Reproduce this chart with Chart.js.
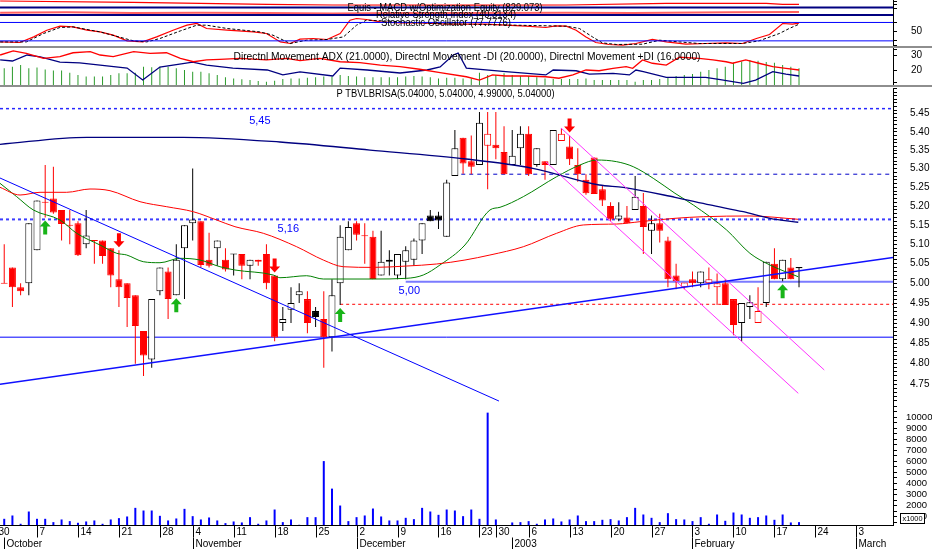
<!DOCTYPE html>
<html>
<head>
<meta charset="utf-8">
<title>PTBVLBRISA</title>
<script src="https://cdn.jsdelivr.net/npm/chart.js@4.4.1/dist/chart.umd.min.js"></script>
<style>
  html, body { margin: 0; padding: 0; background: #ffffff; }
  #wrap { position: relative; width: 932px; height: 549px; overflow: hidden; background: #ffffff; }
  #wrap canvas { position: absolute; left: 0; }
  .sep { position: absolute; left: 0; width: 932px; height: 2px; background: #8e8e8e; }
</style>
</head>
<body>
<div id="wrap">
  <canvas id="cTop" width="932" height="47" style="top:0px"></canvas>
  <canvas id="cDmi" width="932" height="37" style="top:48px"></canvas>
  <canvas id="cPrice" width="932" height="315" style="top:88px"></canvas>
  <canvas id="cVol" width="932" height="146" style="top:403px"></canvas>
  <div class="sep" style="top:46px"></div>
  <div class="sep" style="top:85px"></div>
</div>
<script>
// ======================= DATA =======================
// trading-day slots: 30 Sep 2002 = slot 0, 1 Oct 2002 = slot 1, ...
const firstSlot = 1;
const closeBefore = 5.03;

const openP = [
  5.00,5.04,4.99,5.00,5.085,5.21,5.22,5.19,5.15,5.155,
  5.10,5.11,5.11,5.09,5.01,5.00,4.97,4.88,4.81,4.98,
  5.03,4.97,5.09,5.155,5.16,5.06,5.09,5.06,5.075,5.075,
  5.045,5.06,5.075,5.02,4.90,4.933,4.97,4.96,4.93,4.91,
  4.865,5.00,5.085,5.155,5.122,5.12,5.02,5.055,5.02,5.055,
  5.06,5.11,5.175,5.175,5.12,5.28,5.384,5.32,5.31,5.362,
  5.365,5.345,5.31,5.355,5.395,5.31,5.32,5.31,5.375,5.36,
  5.31,5.27,5.33,5.245,5.20,5.165,5.17,5.19,5.20,5.135,
  5.155,5.11,5.02,4.99,5.01,5.00,5.00,4.99,5.00,4.96,
  4.90,4.94,4.90,4.95,5.05,5.01,5.04,5.04];
const highP = [
  5.10,5.04,5.00,5.155,5.215,5.31,5.305,5.19,5.19,5.16,
  5.19,5.11,5.11,5.09,5.085,5.00,4.97,4.88,4.96,5.04,
  5.04,5.10,5.15,5.30,5.16,5.13,5.11,5.09,5.075,5.075,
  5.06,5.06,5.10,5.02,4.94,4.99,5.00,4.98,4.94,4.98,
  5.01,5.15,5.16,5.16,5.155,5.135,5.135,5.085,5.075,5.095,
  5.115,5.155,5.19,5.185,5.27,5.405,5.384,5.39,5.455,5.455,
  5.455,5.415,5.405,5.415,5.415,5.355,5.32,5.405,5.41,5.39,
  5.355,5.285,5.33,5.255,5.21,5.21,5.20,5.28,5.235,5.175,
  5.18,5.12,5.05,5.00,5.03,5.03,5.04,5.025,5.01,4.96,
  4.95,4.97,4.99,5.055,5.09,5.06,5.065,5.04];
const lowP = [
  5.00,4.94,4.97,4.97,5.085,5.17,5.18,5.11,5.10,5.07,
  5.09,5.05,5.05,4.99,4.94,4.89,4.80,4.77,4.79,4.97,
  4.91,4.97,4.96,5.11,5.04,5.04,5.045,5.03,5.02,5.01,
  5.01,5.045,4.985,4.855,4.88,4.90,4.95,4.875,4.89,4.79,
  4.83,4.945,5.085,5.11,5.05,5.01,5.02,5.02,5.01,5.01,
  5.045,5.075,5.16,5.14,5.12,5.28,5.286,5.285,5.31,5.245,
  5.325,5.285,5.31,5.31,5.28,5.305,5.27,5.31,5.375,5.31,
  5.265,5.23,5.232,5.20,5.16,5.16,5.155,5.19,5.075,5.075,
  5.105,4.99,4.985,4.985,4.99,4.99,4.985,4.945,4.945,4.87,
  4.855,4.91,4.90,4.94,5.01,5.005,5.01,4.99];
const closeP = [
  5.00,4.99,4.98,5.155,5.215,5.21,5.183,5.153,5.15,5.072,
  5.123,5.11,5.07,5.02,4.99,4.963,4.893,4.82,4.96,5.04,
  4.96,5.06,5.15,5.165,5.047,5.045,5.11,5.035,5.075,5.045,
  5.06,5.055,5.00,4.864,4.91,4.95,4.98,4.90,4.915,4.865,
  4.97,5.12,5.145,5.125,5.122,5.011,5.055,5.06,5.075,5.085,
  5.11,5.155,5.16,5.162,5.263,5.355,5.314,5.305,5.425,5.395,
  5.355,5.285,5.335,5.395,5.285,5.355,5.31,5.405,5.395,5.325,
  5.285,5.234,5.232,5.215,5.165,5.175,5.155,5.225,5.145,5.155,
  5.135,5.01,5.005,5.002,5.00,5.03,5.01,5.00,4.945,4.895,
  4.95,4.952,4.93,5.055,5.01,5.06,5.01,5.04];
const volumeShares = [
  810,1110,360,1470,810,810,510,750,600,450,
  570,660,360,750,870,1020,1800,1560,1560,1080,
  660,840,1710,1050,750,930,660,420,570,480,
  960,360,660,1650,510,750,270,960,960,6030,
  3540,2010,600,960,1110,1740,1020,660,660,900,
  780,1800,1470,1170,1650,1560,1050,1650,810,10410,
  750,0,480,510,600,360,750,840,570,750,
  1110,600,600,720,780,660,960,1800,1200,900,
  510,1320,780,750,600,960,360,1200,630,1380,
  1200,900,960,1110,720,1200,480,510];
const adxV = [
  21.1,22.2,23.3,21.1,21.6,20.4,19.6,19.6,18.2,16.7,
  15.6,15.6,15.6,16.7,17.8,17.8,18.2,22.2,21.8,22.2,
  22.2,21.1,20.0,18.9,18.9,17.8,16.7,15.1,14.4,13.8,
  13.3,12.7,12.2,12.9,14.0,14.4,14.4,14.9,15.1,15.6,
  15.6,16.7,16.0,15.6,15.1,15.1,15.1,15.1,15.1,15.6,
  16.0,15.6,15.1,14.4,14.9,14.9,14.4,14.4,18.2,16.7,
  16.7,17.8,16.7,16.0,16.0,15.1,14.4,14.0,14.0,14.0,
  14.0,14.4,13.3,13.3,13.3,13.3,13.3,12.2,13.3,13.3,
  14.0,15.1,16.0,16.7,17.3,18.9,20.0,21.1,22.2,24.9,
  25.6,26.7,26.2,25.3,24.9,23.3,22.2,21.1];
const minusDiX = [0.5,2.1,3.7,5.8,7.8,9.4,11.5,12.7,14.3,16.8,18.8,20.8,22.5,24.1,25.7,27.3,29.8,33.0,35.5,37.1,39.5,42.0,44.4,46.9,49.3,51.7,54.2,57.4,59.0,60.6,62.2,64.7,67.1,68.7,70.4,72.0,73.6,75.3,76.9,77.7,78.9,80.1,81.8,83.4,85.8,87.5,89.1,89.9,91.5,93.1,94.8,96.4,98.0];
const minusDiV = [30,32.7,31.1,27.8,28.9,31.5,32.2,30,28.9,32.2,31.1,31.5,27.8,25.5,26.7,27.1,27.8,26.7,27.8,26.2,27.8,25.5,24.9,23.3,22.2,20.5,18.2,15.5,13.3,16.7,16,16,15.5,14.5,16.7,20,19.5,21.1,22.2,21.1,26.7,24.5,23.3,28.5,27.8,26.7,25.5,24.5,26.7,24.5,22.2,21.1,20.0];
const plusDiX = [0.5,2.0,3.8,5.4,7.8,10.2,12.7,16.0,17.9,20.0,24.0,25.7,28.9,33.1,35.0,37.1,41.1,42.0,45.3,49.3,52.6,54.2,55.8,56.4,57.4,62.2,67.1,68.0,70.8,72.4,75.3,77.3,78.1,79.0,81.8,86.6,88.2,91.2,92.7,94.8,96.4,98.0];
const plusDiV = [26.7,26,30,28.7,25.3,24.7,23.3,21.3,13.3,22,25.3,23.3,21.3,20,16.7,18.7,16,21.3,20,18,20,22,30,31.3,21.3,18.9,16.7,20,19.5,17.3,17.8,16.7,20,18.9,15.1,15.1,13.8,11.1,13.3,18.9,17.3,16.0];
const stochKX = [0.5,2.9,4.6,6.2,7.8,9.4,11.1,12.7,14.3,16.0,17.9,19.6,21.6,23.3,24.5,25.7,28.2,31.4,33.0,34.7,35.9,37.1,38.7,40.4,42.0,43.2,44.0,45.2,46.9,49.3,51.7,53.3,55.0,57.4,59.8,62.2,64.7,67.1,68.3,69.6,70.8,72.0,73.2,74.8,76.5,78.1,80.1,81.8,84.2,86.6,89.1,91.1,92.8,94.4,96.0,97.2,98.0];
const stochKV = [16.6,14.7,32.9,54.8,67.8,65.5,54.8,49.2,38.5,19.9,16.6,32.9,54.8,71.1,76.6,60.3,54.8,49.2,44,16.6,11.4,25.4,27.7,24.5,44,87.4,92.9,89.7,81.8,78.6,78.6,76.6,74.3,74.3,74.3,71.1,67.8,63.6,68.8,67.8,54.8,32.9,14.7,8.2,5.9,11.4,24.5,16.6,9.1,11.4,13.4,11.4,27.7,40.8,76.6,74.3,77.8];
const stochDX = [0.5,3.7,5.8,7.8,9.4,12.7,16.8,18.4,20.0,22.5,24.5,25.7,28.2,32.2,33.8,35.9,37.9,40.4,42.4,44.0,45.2,47.3,53.4,57.4,69.6,71.2,72.8,74.0,75.7,78.9,81.0,83.4,85.8,91.1,93.1,95.6,96.8,98.0];
const stochDV = [16.6,16.6,44,63.6,65.5,49.2,19.9,16.6,27.7,52.5,71.1,71.1,60.3,49.2,38.5,11.4,22.2,24.5,32.9,71.1,87.4,85.1,76.6,74.3,67.8,60.3,32.9,13.4,8.2,9.1,22.2,16.6,11.4,11.4,19.9,44,60.3,74.3];
const stochLevels = [80, 20];
const rsiX = [0.5,8.6,16.7,24.9,33.0,41.1,49.3,57.4,69.6,77.7,89.9,98.0];
const rsiV = [31,36,26,31,26,20,26,26,31,26,38,40.3];
const rsiBand = [100, 0];
const equityX = [0.5,16.7,33.1,41.1,57.4,69.6,81.8,94.0,96.0,98.0];
const equityV = [895,869,829,815,811,815,849,849,829,829];

const maShortX = [0.48,2.52,4.55,7.81,9.84,12.69,14.73,15.95,17.97,20.01,22.45,24.89,27.33,29.16,33.84,34.65,37.91,39.94,46.04,50.12,52.14,54.18,57.23,60.28,61.51,64.35,68.42,71.27,73.31,75.75,77.77,80.21,82.86,85.1,89.17,92.01,94.45,97.91];
const maShortP = [5.2606,5.225,5.1898,5.1634,5.1287,5.0983,5.0768,5.0724,5.0552,5.0526,5.0639,5.0595,5.0423,5.0339,5.0211,5.0142,5.0193,5.0109,5.0109,5.0127,5.0211,5.0467,5.0983,5.1898,5.1969,5.225,5.2783,5.3098,5.3232,5.3187,5.3052,5.274,5.234,5.203,5.1372,5.0768,5.0467,5.0167];
const maMidX = [0.48,2.93,5.37,8.62,11.47,13.91,17.57,20.83,24.08,26.93,29.16,32.62,36.69,39.94,42.38,46.04,50.12,53.78,57.23,60.28,64.35,68.42,71.67,75.75,78.59,82.86,86.32,92.01,97.91];
const maMidP = [5.2499,5.2294,5.2366,5.2366,5.2454,5.2409,5.2117,5.1984,5.1852,5.1634,5.1459,5.1287,5.0938,5.0595,5.0423,5.0406,5.0441,5.0493,5.0595,5.0724,5.0938,5.1287,5.1504,5.1529,5.159,5.1679,5.1721,5.174,5.1653];
const maLongX = [0.48,11.07,22.82,34.65,45.64,57.36,65.5,73.62,76.55,82.86,87.13,91.2,94.45,97.91];
const maLongP = [5.3659,5.385,5.385,5.3722,5.3503,5.326,5.3009,5.2561,5.2499,5.2233,5.203,5.1852,5.1679,5.1575];

const levelPrice = [5.464, 5.285, 5.165, 5.004, 4.947, 4.865];
const levelStart = [null, 55.8, null, 50.0, 42.0, null];
const trendX0 = [0.4845, 0.4845, 68.95, 67.12];
const trendP0 = [5.2748, 4.75, 5.4105, 5.3178];
const trendX1 = [61.38, 109.47, 101.08, 97.91];
const trendP1 = [4.7097, 5.066, 4.7846, 4.7282];
const noteText = ['5,45', '5,16', '5,00'];
const noteSlot = [32.2, 35.67, 50.44];
const notePrice = [5.43, 5.14, 4.981];
const upArrowSlots = [6, 22, 42, 96];
const downArrowSlots = [15, 34, 70];

const priceTickLabels = ['4.75','4.80','4.85','4.90','4.95','5.00','5.05','5.10','5.15','5.20','5.25','5.30','5.35','5.40','5.45'];
const volTickLabels = ['1000','2000','3000','4000','5000','6000','7000','8000','9000','10000'];
const dmiTickLabels = ['20', '30'];
const stochTickLabels = ['50'];
const dayTickSlots = [0,5,10,15,20,24,29,34,39,44,49,54,59,61,65,70,75,80,85,90,95,100,105];
const dayTickLabels = ['30','7','14','21','28','4','11','18','25','2','9','16','23','30','6','13','20','27','3','10','17','24','3'];
const monthSlots = [1,24,44,63,85,105];
const monthLabels = ['October','November','December','2003','February','March'];

const titleEquity = 'Equis - MACD w/Optimization Equity (829.073)';
const titleRsi = 'Relative Strength Index (40.3134)';
const titleStoch = 'Stochastic Oscillator (77.7776)';
const titleDmi = 'Directnl Movement ADX (21.0000), Directnl Movement -DI (20.0000), Directnl Movement +DI (16.0000)';
const titlePrice = 'P TBVLBRISA(5.04000, 5.04000, 4.99000, 5.04000)';

// ======================= SETUP =======================
const FONT = "'Liberation Sans', Arial, Helvetica, sans-serif";
Chart.defaults.font.family = FONT;
Chart.defaults.font.size = 10;
Chart.defaults.color = '#000';

const xMin = 0.4845, xMax = 109.47;
const slots = openP.map((_, i) => firstSlot + i);
const prevC = closeP.map((c, i) => (i ? closeP[i - 1] : closeBefore));
const redDay = closeP.map((c, i) => c < prevC[i]);
const hollow = closeP.map((c, i) => c >= openP[i]);
const candleColor = redDay.map(r => (r ? '#ff0000' : '#000000'));

function pts(xs, ys) { return xs.map((x, i) => ({ x: x, y: ys[i] })); }
function hline(v, from, to) { return [{ x: from == null ? xMin : from, y: v }, { x: to == null ? xMax : to, y: v }]; }
function lineDs(data, color, width, extra) {
  return Object.assign({ type: 'line', data: data, borderColor: color, borderWidth: width,
    pointRadius: 0, pointHoverRadius: 0, fill: false, tension: 0 }, extra || {});
}
function xAxis() { return { type: 'linear', min: xMin, max: xMax, display: false, offset: false }; }
function rightAxis(o) {
  return {
    type: o.type || 'linear', position: 'right', min: o.min, max: o.max,
    afterFit: s => { s.width = 39; s.paddingTop = 0; s.paddingBottom = 0; },
    afterBuildTicks: s => { s.ticks = o.tickValues.map(v => ({ value: v })); },
    grid: { drawOnChartArea: false, drawTicks: true, tickLength: o.tickLength || 4, color: '#000', lineWidth: 1 },
    border: { display: true, color: '#000', width: 1 },
    ticks: { autoSkip: false, padding: o.padding, color: '#000', font: { size: o.fontSize || 10 },
      callback: o.label }
  };
}
function labelFrom(list) {
  return v => { const hit = list.find(t => Math.abs(parseFloat(t) - v) < 1e-6); return hit === undefined ? '' : hit; };
}
function baseOpts(scales, padBottom) {
  return {
    responsive: false, animation: false, events: [],
    layout: { padding: { left: 0, right: 0, top: 0, bottom: padBottom || 0 } },
    plugins: { legend: { display: false }, tooltip: { enabled: false }, title: { display: false } },
    scales: scales
  };
}
function fitText(ctx, text, cx, cy, width, size, color, align) {
  ctx.save();
  ctx.font = size + 'px ' + FONT;
  ctx.fillStyle = color;
  ctx.textBaseline = 'middle';
  ctx.textAlign = align || 'center';
  const w = ctx.measureText(text).width;
  const sx = width ? width / w : 1;
  ctx.translate(cx, cy);
  ctx.scale(sx, 1);
  ctx.fillText(text, 0, 0);
  ctx.restore();
}
function textPlugin(id, items) {
  return { id: id, afterDatasetsDraw(chart) {
    items.forEach(t => fitText(chart.ctx, t.text, t.x, t.y, t.w, t.size, '#000'));
  } };
}

// ======================= TOP: Equity / RSI / Stochastic =======================
new Chart(document.getElementById('cTop'), {
  type: 'line',
  data: { datasets: [
    lineDs(pts(equityX, equityV), '#ff0000', 1.2, { yAxisID: 'yM' }),
    lineDs(hline(rsiBand[0]), '#000080', 2, { yAxisID: 'yR' }),
    lineDs(hline(rsiBand[1]), '#000080', 2, { yAxisID: 'yR' }),
    lineDs(pts(rsiX, rsiV), '#ff6060', 2, { yAxisID: 'yR' }),
    lineDs(hline(stochLevels[0]), '#0000ff', 1, { yAxisID: 'y' }),
    lineDs(hline(stochLevels[1]), '#0000ff', 1, { yAxisID: 'y' }),
    lineDs(pts(stochDX, stochDV), '#000000', 1, { yAxisID: 'y', borderDash: [3, 2] }),
    lineDs(pts(stochKX, stochKV), '#ff0000', 1.2, { yAxisID: 'y' })
  ] },
  options: baseOpts({
    x: xAxis(),
    y: rightAxis({ min: 0, max: 153.2, tickValues: [5, 20, 50, 80, 125, 140, 148], padding: 14,
      label: labelFrom(stochTickLabels) }),
    yR: { display: false, min: -426.7, max: 200 },
    yM: { display: false, min: -25, max: 915 }
  }),
  plugins: [textPlugin('topTitles', [
    { text: titleEquity, x: 445, y: 8, w: 195, size: 10 },
    { text: titleRsi, x: 446, y: 15.5, w: 140, size: 10 },
    { text: titleStoch, x: 446, y: 23, w: 130, size: 10 }
  ])]
});

// ======================= DMI =======================
new Chart(document.getElementById('cDmi'), {
  type: 'line',
  data: { datasets: [
    { type: 'bar', data: slots.map((s, i) => ({ x: s, y: adxV[i] })), backgroundColor: '#2b9b2b',
      barThickness: 1, grouped: false, order: 3, inflateAmount: 0 },
    lineDs(pts(plusDiX, plusDiV), '#000080', 1.3, { order: 2 }),
    lineDs(pts(minusDiX, minusDiV), '#ff0000', 1.3, { order: 1 })
  ] },
  options: baseOpts({
    x: xAxis(),
    y: rightAxis({ min: 10, max: 34.67, tickValues: [12, 20, 30, 34], padding: 14,
      label: labelFrom(dmiTickLabels) })
  }),
  plugins: [textPlugin('dmiTitle', [{ text: titleDmi, x: 467, y: 9, w: 467, size: 10 }])]
});

// ======================= PRICE =======================
const levelStyle = [
  { c: '#2828ff', w: 1.5, d: [3, 3] },
  { c: '#0000c8', w: 1, d: [4, 4] },
  { c: '#3c3cff', w: 2, d: [3, 3] },
  { c: '#7b7bff', w: 2, d: [] },
  { c: '#ff0000', w: 1, d: [3, 3] },
  { c: '#0000ff', w: 1, d: [] }
];
const trendStyle = [
  { c: '#0000ff', w: 1 }, { c: '#1010ff', w: 1.4 }, { c: '#ff33ff', w: 1 }, { c: '#ff33ff', w: 1 }
];
const priceTickValues = [];
for (let k = 471; k <= 552; k++) priceTickValues.push(k / 100);

const wickData = slots.map((s, i) => ({ x: s, y: [lowP[i], highP[i]] }));
const bodyData = slots.map((s, i) => {
  let lo = Math.min(openP[i], closeP[i]), hi = Math.max(openP[i], closeP[i]);
  if (hi - lo < 0.003) { const m = (hi + lo) / 2; lo = m - 0.0013; hi = m + 0.0013; }
  return { x: s, y: [lo, hi] };
});

const priceDatasets = [];
levelPrice.forEach((p, i) => priceDatasets.push(lineDs(hline(p, levelStart[i]), levelStyle[i].c, levelStyle[i].w,
  { borderDash: levelStyle[i].d, order: 6 })));
priceDatasets.push({ type: 'bar', data: wickData, backgroundColor: candleColor, borderWidth: 0,
  barThickness: 1, grouped: false, order: 5, inflateAmount: 0 });
priceDatasets.push({ type: 'bar', data: bodyData,
  backgroundColor: slots.map((s, i) => (hollow[i] ? '#ffffff' : candleColor[i])),
  borderColor: candleColor, borderWidth: 1, borderSkipped: false,
  barThickness: 7, grouped: false, order: 4, inflateAmount: 0 });
priceDatasets.push(lineDs(pts(maLongX, maLongP), '#000080', 1.3, { cubicInterpolationMode: 'monotone', order: 3 }));
priceDatasets.push(lineDs(pts(maMidX, maMidP), '#ff0000', 1, { cubicInterpolationMode: 'monotone', order: 3 }));
priceDatasets.push(lineDs(pts(maShortX, maShortP), '#008000', 1, { cubicInterpolationMode: 'monotone', order: 3 }));
trendX0.forEach((x0, i) => priceDatasets.push(lineDs([{ x: x0, y: trendP0[i] }, { x: trendX1[i], y: trendP1[i] }],
  trendStyle[i].c, trendStyle[i].w, { order: 2 })));

function drawArrow(ctx, x, y, dir, color) {
  ctx.save();
  ctx.fillStyle = color;
  ctx.beginPath();
  ctx.moveTo(x, y);
  ctx.lineTo(x - 5.5, y + 6 * dir);
  ctx.lineTo(x - 2, y + 6 * dir);
  ctx.lineTo(x - 2, y + 14 * dir);
  ctx.lineTo(x + 2, y + 14 * dir);
  ctx.lineTo(x + 2, y + 6 * dir);
  ctx.lineTo(x + 5.5, y + 6 * dir);
  ctx.closePath();
  ctx.fill();
  ctx.restore();
}
const priceMarks = {
  id: 'priceMarks',
  afterDatasetsDraw(chart) {
    const ctx = chart.ctx, xs = chart.scales.x, ys = chart.scales.y;
    upArrowSlots.forEach(s => {
      const i = s - firstSlot;
      drawArrow(ctx, xs.getPixelForValue(s), ys.getPixelForValue(lowP[i]) + 3, 1, '#18b418');
    });
    downArrowSlots.forEach(s => {
      const i = s - firstSlot;
      drawArrow(ctx, xs.getPixelForValue(s), ys.getPixelForValue(highP[i]) - 3, -1, '#ff0000');
    });
    noteText.forEach((t, i) => fitText(ctx, t, xs.getPixelForValue(noteSlot[i]), ys.getPixelForValue(notePrice[i]),
      null, 11, '#0000ff'));
    fitText(ctx, titlePrice, 445.5, 6.5, 218, 10, '#000');
  }
};

new Chart(document.getElementById('cPrice'), {
  type: 'line',
  data: { datasets: priceDatasets },
  options: baseOpts({
    x: xAxis(),
    y: rightAxis({ type: 'logarithmic', min: 4.705, max: 5.5216, tickValues: priceTickValues, padding: 13,
      tickLength: 4, label: labelFrom(priceTickLabels) })
  }),
  plugins: [priceMarks]
});

// ======================= VOLUME + DATE AXIS =======================
const volTickValues = [];
for (let v = 500; v <= 11000; v += 500) volTickValues.push(v);
const volData = [];
slots.forEach((s, i) => { if (volumeShares[i] > 0) volData.push({ x: s, y: volumeShares[i] }); });

const dateAxis = {
  id: 'dateAxis',
  afterDraw(chart) {
    const ctx = chart.ctx, xs = chart.scales.x, a = chart.chartArea;
    const y0 = Math.round(a.bottom) + 0.5;
    ctx.save();
    ctx.strokeStyle = '#000';
    ctx.lineWidth = 1;
    ctx.beginPath(); ctx.moveTo(0, y0); ctx.lineTo(a.right, y0); ctx.stroke();
    ctx.font = '10px ' + FONT;
    ctx.fillStyle = '#000';
    ctx.textBaseline = 'middle';
    ctx.textAlign = 'left';
    dayTickSlots.forEach((s, i) => {
      const x = Math.round(xs.getPixelForValue(s)) + 0.5;
      ctx.beginPath(); ctx.moveTo(x, y0); ctx.lineTo(x, y0 + 12); ctx.stroke();
      ctx.fillText(dayTickLabels[i], x + 2, y0 + 7);
    });
    monthSlots.forEach((s, i) => {
      const x = Math.round(xs.getPixelForValue(s)) + 0.5;
      ctx.beginPath(); ctx.moveTo(x, y0 + 12); ctx.lineTo(x, y0 + 24); ctx.stroke();
      ctx.fillText(monthLabels[i], x + 2, y0 + 19);
    });
    // unit box on the volume axis
    ctx.fillStyle = '#ffffff';
    ctx.fillRect(900.5, 110.5, 24, 10);
    ctx.strokeRect(900.5, 110.5, 24, 10);
    fitText(ctx, 'x1000', 912.5, 116, 20, 8, '#000');
    ctx.restore();
  }
};

new Chart(document.getElementById('cVol'), {
  type: 'line',
  data: { datasets: [
    { type: 'bar', data: volData, backgroundColor: '#0000ff', barThickness: 2, grouped: false, inflateAmount: 0 }
  ] },
  options: baseOpts({
    x: xAxis(),
    y: rightAxis({ min: 250, max: 11281, tickValues: volTickValues, padding: 9, fontSize: 9.5,
      label: labelFrom(volTickLabels) })
  }, 24),
  plugins: [dateAxis]
});
</script>
</body>
</html>
